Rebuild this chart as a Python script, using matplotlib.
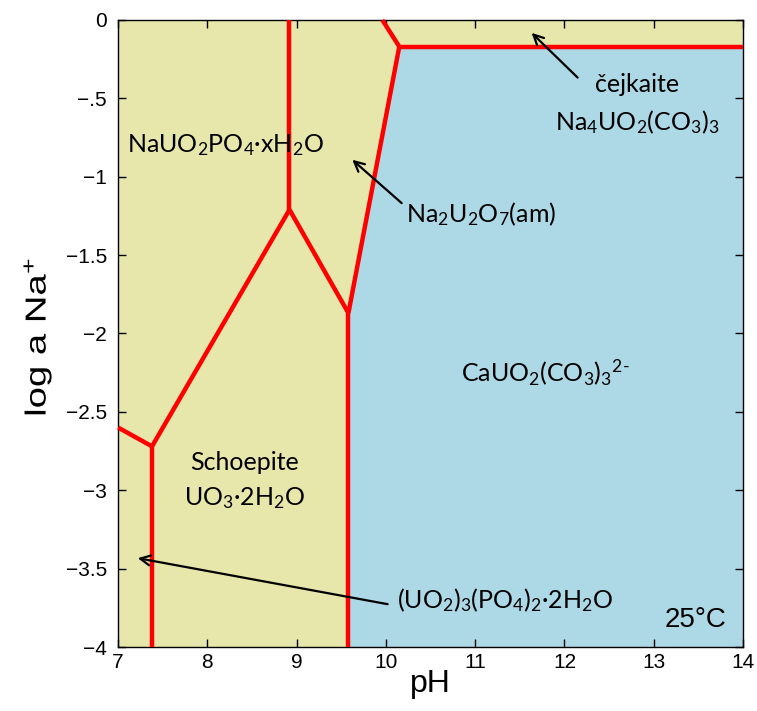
import matplotlib.pyplot as plt
import numpy as np
from matplotlib.textpath import TextPath
from matplotlib.patches import PathPatch
from matplotlib.font_manager import FontProperties
from matplotlib.transforms import Affine2D, IdentityTransform

plt.rcParams['mathtext.fontset'] = 'custom'
plt.rcParams['mathtext.rm'] = 'Lato'
plt.rcParams['mathtext.it'] = 'Lato:italic'

# boundary segments (pH, log a Na+)
seg_top = ([10.15, 14.0], [-0.17, -0.17])
seg_cej = ([9.96, 10.15], [0.0, -0.17])
seg_na2u2o7 = ([10.15, 9.58], [-0.17, -1.87])
seg_v958 = ([9.58, 9.58], [-1.87, -4.0])
seg_mid = ([9.58, 8.92], [-1.87, -1.21])
seg_v892 = ([8.92, 8.92], [-1.21, 0.0])
seg_diag = ([8.92, 7.38], [-1.21, -2.72])
seg_left = ([7.0, 7.38], [-2.60, -2.72])
seg_v738 = ([7.38, 7.38], [-2.72, -4.0])
segments = [seg_top, seg_cej, seg_na2u2o7, seg_v958, seg_mid,
            seg_v892, seg_diag, seg_left, seg_v738]

# aqueous field (blue) outline
aq_x = [9.58, 9.58, 10.15, 14.0, 14.0]
aq_y = [-4.0, -1.87, -0.17, -0.17, -4.0]

xticks = [7, 8, 9, 10, 11, 12, 13, 14]
yticks = [0, -0.5, -1, -1.5, -2, -2.5, -3, -3.5, -4]
ylabels = ['0', '\u2212.5', '\u22121', '\u22121.5', '\u22122', '\u22122.5',
           '\u22123', '\u22123.5', '\u22124']

fig = plt.figure(figsize=(7.57, 7.11), dpi=100)
ax = fig.add_axes([0.156, 0.090, 0.8255, 0.8819])
ax.set_facecolor('#e8e7ab')
ax.fill(aq_x, aq_y, color='#add8e6', zorder=1)

for sx, sy in segments:
    ax.plot(sx, sy, color='#ff0000', lw=3.2, zorder=3, solid_capstyle='butt', clip_on=False)

ax.set_xlim(7, 14)
ax.set_ylim(-4, 0)
ax.set_xticks(xticks)
ax.set_yticks(yticks)
ax.set_yticklabels(ylabels)
ax.tick_params(direction='in', top=True, right=True, length=6, width=1,
               labelsize=15)
ax.tick_params(axis='y', pad=8)
ax.tick_params(axis='x', pad=4)
for lab in ax.get_xticklabels() + ax.get_yticklabels():
    lab.set_family('Liberation Sans')
for s in ax.spines.values():
    s.set_linewidth(1)

ax.set_xlabel('pH', fontsize=23, family='Liberation Sans', labelpad=-2)

# y label, drawn a bit stretched along its length like the original
tp = TextPath((0, 0), 'log a Na$^{+}$', size=29,
              prop=FontProperties(family='Liberation Sans'))
tp_ext = tp.get_extents()
p = (Affine2D().translate(-tp_ext.x0 - tp_ext.width / 2, -tp_ext.y0 - tp_ext.height / 2)
     .scale(1.32, 1.0).rotate_deg(90)
     .translate(37.5, 711 - 337)).transform_path(tp)
fig.add_artist(PathPatch(p, transform=IdentityTransform(), color='black', lw=0))

tf = dict(family='Lato', fontsize=18, zorder=5)
ax.text(8.2, -0.80, r'NaUO$_2$PO$_4$·xH$_2$O', ha='center', va='center', **tf)
ax.text(12.81, -0.41, 'čejkaite', ha='center', va='center', **tf)
ax.text(12.81, -0.65, r'Na$_4$UO$_2$(CO$_3$)$_3$', ha='center', va='center', **tf)
ax.text(11.78, -2.25, r'CaUO$_2$(CO$_3$)$_3$$^{2\text{-}}$', ha='center', va='center', **tf)
ax.text(8.42, -2.82, 'Schoepite', ha='center', va='center', **tf)
ax.text(8.42, -3.05, r'UO$_3$·2H$_2$O', ha='center', va='center', **tf)
ax.text(10.22, -1.24, r'Na$_2$U$_2$O$_7$(am)', ha='left', va='center', **tf)
ax.text(10.12, -3.70, r'(UO$_2$)$_3$(PO$_4$)$_2$·2H$_2$O', ha='left', va='center', **tf)
ax.text(13.82, -3.83, '25°C', ha='right', va='center', family='Liberation Sans',
        fontsize=20, zorder=5)

ap = dict(arrowstyle='->', color='black', lw=1.6, mutation_scale=18)
ax.annotate('', xy=(9.6, -0.88), xytext=(10.2, -1.18), arrowprops=ap, zorder=6)
ax.annotate('', xy=(11.61, -0.07), xytext=(12.17, -0.38), arrowprops=ap, zorder=6)
ax.annotate('', xy=(7.19, -3.43), xytext=(10.05, -3.73), arrowprops=ap, zorder=6)

fig.savefig('out.png', dpi=100)
